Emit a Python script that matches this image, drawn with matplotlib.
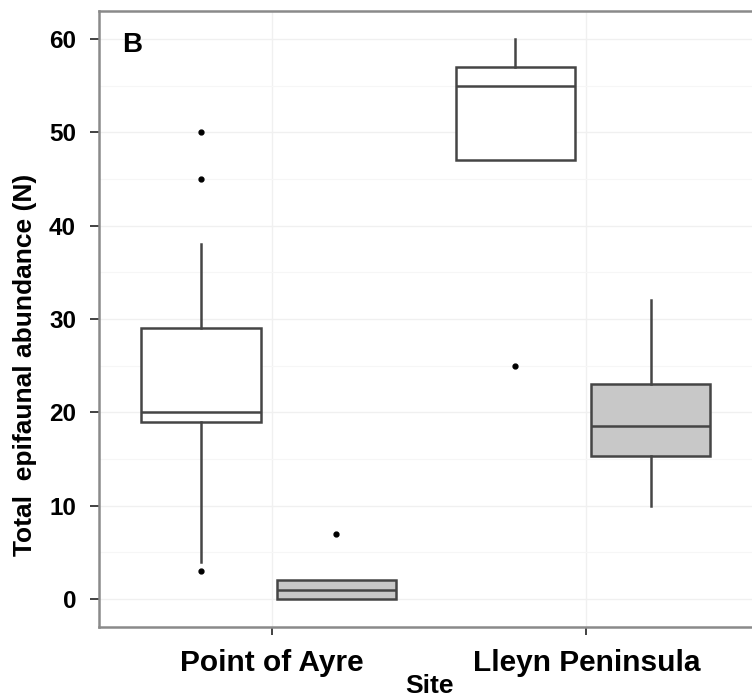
import matplotlib.pyplot as plt
import numpy as np

plt.rcParams['font.family'] = ['Liberation Sans', 'DejaVu Sans']
plt.rcParams['font.weight'] = 'bold'

# sites and the two groups drawn at each site
sites = ['Point of Ayre', 'Lleyn Peninsula']
groups = ['white', 'grey']
group_offset = [-0.226, 0.205]
group_fill = ['white', '#c8c8c8']

# box summaries per site, per group: whislo, q1, median, q3, whishi
whislo = [[4, 0], [47, 10]]
q1 = [[19, 0], [47, 15.3]]
med = [[20, 1], [55, 18.5]]
q3 = [[29, 2], [57, 23]]
whishi = [[38, 2], [60, 32]]
fliers = [[[50, 45, 3], [7]], [[25], []]]

fig = plt.figure(figsize=(7.52, 6.99), dpi=100)
ax = fig.add_axes([0.1316, 0.103, 0.878, 0.881])

for s in range(len(sites)):
    for g in range(len(groups)):
        st = [dict(whislo=whislo[s][g], q1=q1[s][g], med=med[s][g],
                   q3=q3[s][g], whishi=whishi[s][g], fliers=fliers[s][g])]
        ax.bxp(st, positions=[s + 1 + group_offset[g]], widths=0.38,
               patch_artist=True, showcaps=False, manage_ticks=False,
               boxprops=dict(facecolor=group_fill[g], edgecolor='#454545', linewidth=1.8),
               medianprops=dict(color='#454545', linewidth=1.8),
               whiskerprops=dict(color='#454545', linewidth=1.8),
               flierprops=dict(marker='o', markersize=3.5, markerfacecolor='black',
                               markeredgecolor='black'),
               zorder=3)

ax.set_xlim(0.45, 2.55)
ax.set_ylim(-3, 63)
ax.set_xticks([1, 2])
ax.set_xticklabels(sites, fontsize=21.5, fontweight='bold')
ax.set_yticks(np.arange(0, 61, 10))
ax.set_yticks(np.arange(5, 60, 10), minor=True)
ax.tick_params(axis='y', which='major', labelsize=17.5, length=6.5, width=1.3,
               color='#333333', pad=10)
ax.tick_params(axis='x', which='major', length=6, width=1.3, color='#333333', pad=10)
ax.tick_params(which='minor', length=0)

ax.grid(which='major', color='#f0f0f0', linewidth=1.0, zorder=0)
ax.grid(which='minor', axis='y', color='#f6f6f6', linewidth=0.8, zorder=0)
ax.set_axisbelow(True)

for sp in ax.spines.values():
    sp.set_color('#8a8a8a')
    sp.set_linewidth(1.8)

ax.set_ylabel('Total  epifaunal abundance (N)', fontsize=19, fontweight='bold')
ax.yaxis.set_label_coords(-0.094, 0.425)
ax.set_xlabel('Site', fontsize=19, fontweight='bold', labelpad=-2)

ax.text(0.035, 0.945, 'B', transform=ax.transAxes, fontsize=20,
        fontweight='bold', va='center', ha='left')

fig.savefig('out.png', dpi=100)
